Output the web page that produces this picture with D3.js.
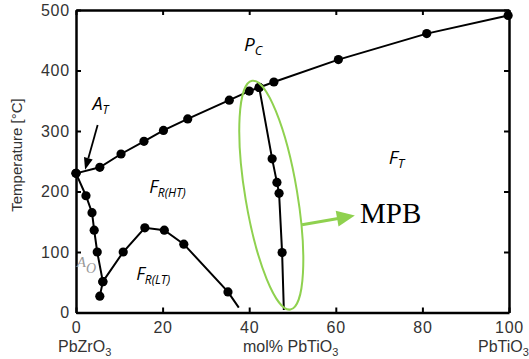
<!DOCTYPE html>
<html><head><meta charset="utf-8">
<script src="https://cdn.jsdelivr.net/npm/d3@7"></script>
<style>
body{margin:0;background:#fff;}
svg{display:block;}
</style></head>
<body>
<svg id="c" width="529" height="359"></svg>
<script>
// ---- data ----
const xTicks = [0, 20, 40, 60, 80, 100];
const yTicks = [0, 100, 200, 300, 400, 500];
// Curie line (paraelectric cubic boundary)
const curieX = [0, 5.5, 10.4, 15.7, 20.2, 25.8, 35.4, 40, 42.3, 45.7, 60.6, 81, 99.8];
const curieY = [230, 240, 262, 283, 301, 320, 351, 366, 372, 381, 418, 461, 491];
// MPB line
const mpbX = [42.3, 45.3, 46.4, 46.9, 47.6, 48.0];
const mpbY = [372, 254, 215, 197, 99, 4];
const mpbDot = [true, true, true, true, true, false];
// Antiferroelectric / ferroelectric boundary
const afeX = [0, 2.3, 3.7, 4.2, 4.9, 6.2, 5.5];
const afeY = [230, 193, 165, 136, 100, 51, 27];
// FR(HT) / FR(LT) boundary
const rltX = [6.2, 10.9, 15.9, 20.4, 24.9, 35.1, 37.6];
const rltY = [51, 100, 140, 136, 113, 34, 8];
const rltDot = [true, true, true, true, true, true, false];

const svg = d3.select("#c");
const L = 76, R = 509, T = 10, B = 312.5;
const x = d3.scaleLinear().domain([0, 100]).range([L, R]);
const y = d3.scaleLinear().domain([0, 500]).range([B, T]);

const tickCol = "#333";
const font = "'Liberation Sans', Arial, sans-serif";

// axes
const gB = svg.append("g").attr("transform", `translate(0,${B})`)
  .call(d3.axisBottom(x).tickValues(xTicks).tickSizeInner(-5).tickSizeOuter(0).tickPadding(9));
const gT = svg.append("g").attr("transform", `translate(0,${T})`)
  .call(d3.axisTop(x).tickValues(xTicks).tickSizeInner(-5).tickSizeOuter(0).tickFormat(""));
const gL = svg.append("g").attr("transform", `translate(${L},0)`)
  .call(d3.axisLeft(y).tickValues(yTicks).tickSizeInner(-5).tickSizeOuter(0).tickPadding(6));
const gR = svg.append("g").attr("transform", `translate(${R},0)`)
  .call(d3.axisRight(y).tickValues(yTicks).tickSizeInner(-5).tickSizeOuter(0).tickFormat(""));
[gB, gT, gL, gR].forEach(g => {
  g.select(".domain").attr("stroke", "#000").attr("stroke-width", 2.5);
  g.selectAll(".tick line").attr("stroke", "#000").attr("stroke-width", 2);
  g.selectAll(".tick text").attr("fill", tickCol).style("font-family", font)
    .style("font-size", "16px").style("letter-spacing", "0.8px");
});
gB.selectAll(".tick text").attr("dy", "0.71em");

// axis titles
svg.append("text").attr("transform", `translate(22,${155}) rotate(-90)`)
  .attr("text-anchor", "middle").attr("fill", tickCol)
  .style("font-family", font).style("font-size", "15px").text("Temperature [°C]");

function subText(px, py, main, sub, opts) {
  const t = svg.append("text").attr("x", px).attr("y", py)
    .attr("fill", opts.fill || "#000").style("font-family", opts.family)
    .style("font-size", opts.size + "px").style("font-style", opts.italic ? "italic" : "normal");
  t.append("tspan").text(main);
  t.append("tspan").attr("dy", opts.dy).style("font-size", opts.sub + "px").text(sub);
  return t;
}
subText(58, 352, "PbZrO", "3", {family: font, size: 16, sub: 11, dy: 4, fill: tickCol});
subText(243, 352, "mol% PbTiO", "3", {family: font, size: 16, sub: 11, dy: 4, fill: tickCol});
subText(478, 352, "PbTiO", "3", {family: font, size: 16, sub: 11, dy: 4, fill: tickCol});

// lines
const line = d3.line().x(d => x(d[0])).y(d => y(d[1]));
function series(xs, ys, dots) {
  const pts = xs.map((v, i) => [v, ys[i]]);
  svg.append("path").datum(pts).attr("d", line).attr("fill", "none")
    .attr("stroke", "#000").attr("stroke-width", 2);
  svg.append("g").selectAll("circle").data(pts.filter((p, i) => !dots || dots[i]))
    .join("circle").attr("cx", d => x(d[0])).attr("cy", d => y(d[1])).attr("r", 4.6).attr("fill", "#000");
}
series(curieX, curieY);
series(mpbX, mpbY, mpbDot);
series(afeX, afeY);
series(rltX, rltY, rltDot);

// region labels
const lab = {family: "'Open Sans', sans-serif", italic: true};
subText(x(38.8), y(433), "P", "C", {...lab, size: 19, sub: 13, dy: 4});
subText(x(72.2), y(246), "F", "T", {...lab, size: 19, sub: 13, dy: 4});
subText(x(16.9), y(198), "F", "R(HT)", {...lab, size: 18, sub: 12, dy: 4});
subText(x(13.9), y(53), "F", "R(LT)", {...lab, size: 18, sub: 12, dy: 4});
subText(x(3.8), y(335), "A", "T", {...lab, size: 18, sub: 12, dy: 4});
subText(x(0.2), y(76), "A", "O", {family: "'Liberation Serif', serif", italic: true, size: 15, sub: 14, dy: 6, fill: "#999"});

// A_T arrow
const a0 = [x(5.0), y(310)], a1 = [x(2.1), y(236)];
{
  const ang = Math.atan2(a1[1] - a0[1], a1[0] - a0[0]);
  const hl = 12, hw = 4.5;
  const bx = a1[0] - hl * Math.cos(ang), by = a1[1] - hl * Math.sin(ang);
  svg.append("line").attr("x1", a0[0]).attr("y1", a0[1]).attr("x2", bx).attr("y2", by)
    .attr("stroke", "#000").attr("stroke-width", 1.8);
  const px = -Math.sin(ang) * hw, py = Math.cos(ang) * hw;
  svg.append("path").attr("d", `M${a1[0]},${a1[1]}L${bx + px},${by + py}L${bx - px},${by - py}Z`).attr("fill", "#000");
}

// MPB ellipse + arrow
const green = "#8fd14f";
const ec = [x(45.1), y(194)];
svg.append("ellipse").attr("cx", 0).attr("cy", 0).attr("rx", 26).attr("ry", 116)
  .attr("transform", `translate(${ec[0]},${ec[1]}) rotate(-9.5)`)
  .attr("fill", "none").attr("stroke", green).attr("stroke-width", 2);
{
  const s = [x(52.2), y(145)], e = [x(64.4), y(160.5)];
  const ang = Math.atan2(e[1] - s[1], e[0] - s[0]);
  const hl = 18, hw = 8;
  const bx = e[0] - hl * Math.cos(ang), by = e[1] - hl * Math.sin(ang);
  svg.append("line").attr("x1", s[0]).attr("y1", s[1]).attr("x2", bx + 1).attr("y2", by)
    .attr("stroke", green).attr("stroke-width", 3);
  const px = -Math.sin(ang) * hw, py = Math.cos(ang) * hw;
  svg.append("path").attr("d", `M${e[0]},${e[1]}L${bx + px},${by + py}L${bx - px},${by - py}Z`).attr("fill", green);
}
svg.append("text").attr("x", x(65.6)).attr("y", y(148)).attr("fill", "#000")
  .style("font-family", "'Liberation Serif', serif").style("font-size", "29px").text("MPB");
</script>
</body></html>
